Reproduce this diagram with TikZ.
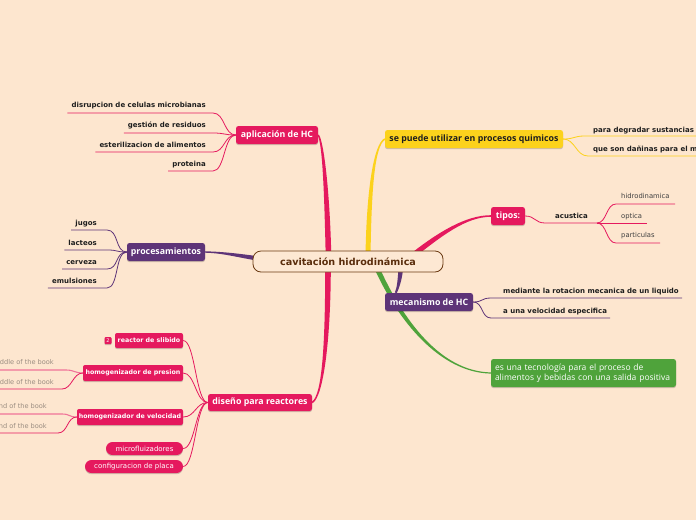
\documentclass[tikz,border=0pt]{standalone}
\usepackage{fontspec}
\setmainfont{DejaVu Sans}
\newfontfamily\osans{Open Sans}
\usetikzlibrary{calc,shadows}
\definecolor{bgc}{HTML}{FDE6CF}
\definecolor{hpink}{HTML}{E5195E}
\definecolor{hpurple}{HTML}{5E3478}
\definecolor{hyellow}{HTML}{FCD21C}
\definecolor{hgreen}{HTML}{4FA33B}
\definecolor{cbrown}{HTML}{6B3A12}
\definecolor{ctext}{HTML}{5A2D0C}
\definecolor{cfill}{HTML}{FDE8D3}
\definecolor{lpink}{HTML}{F07399}
\definecolor{greytext}{HTML}{9A8C80}
\definecolor{leaftxt}{HTML}{1E1E1E}
\pgfdeclarelayer{backlayer}
\pgfdeclarelayer{linelayer}
\pgfsetlayers{backlayer,linelayer,main}
% tapered branch: #1 start, #2 control 1, #3 control 2, #4 end, #5 half width at start, #6 half width at end, #7 colour
\newcommand\taperbranch[7]{%
  \path ($(#1)!#5!90:(#2)$) coordinate (tA1)
        ($(#1)!#5!-90:(#2)$) coordinate (tA2)
        ($(#4)!#6!-90:(#3)$) coordinate (tB1)
        ($(#4)!#6!90:(#3)$) coordinate (tB2);
  \path ($(#2)+(tA1)-(#1)$) coordinate (tC1)
        ($(#2)+(tA2)-(#1)$) coordinate (tC2)
        ($(#3)+(tB1)-(#4)$) coordinate (tD1)
        ($(#3)+(tB2)-(#4)$) coordinate (tD2);
  \fill[#7] (tA1) .. controls (tC1) and (tD1) .. (tB1) -- (tB2)
        .. controls (tD2) and (tC2) .. (tA2) -- cycle;
}
\begin{document}
\begin{tikzpicture}[x=1pt,y=-1pt,
  topic/.style={rounded corners=2.5pt, inner sep=0pt, text=white,
    font=\osans\bfseries\fontsize{8.8}{10}\selectfont,
    drop shadow={shadow xshift=0pt,shadow yshift=-1.2pt,opacity=0.18,fill=black}},
  subtopic/.style={rounded corners=2pt, inner sep=0pt, fill=hpink, text=white,
    font=\bfseries\fontsize{6.3}{7}\selectfont,
    drop shadow={shadow xshift=0pt,shadow yshift=-1.2pt,opacity=0.18,fill=black}},
  pill/.style={rounded corners=6.5pt, inner sep=0pt, fill=hpink, text=white,
    font=\fontsize{7}{8}\selectfont,
    drop shadow={shadow xshift=0pt,shadow yshift=-1.2pt,opacity=0.18,fill=black}},
  leaf/.style={inner sep=0pt, text=leaftxt, font=\bfseries\fontsize{7}{8}\selectfont},
  leafreg/.style={inner sep=0pt, text=leaftxt!85, font=\fontsize{6.8}{8}\selectfont},
  greyleaf/.style={inner sep=0pt, text=greytext, font=\fontsize{6.6}{8}\selectfont},
  pinkln/.style={draw=hpink, line width=0.8pt},
  lpinkln/.style={draw=lpink, line width=1.1pt},
  purpln/.style={draw=hpurple, line width=0.8pt},
  yelln/.style={draw=hyellow, line width=0.8pt},
]
\begin{pgfonlayer}{backlayer}
\fill[bgc] (0,0) rectangle (696,520);
\end{pgfonlayer}
\useasboundingbox (0,0) rectangle (696,520);

% central
\node[rounded corners=8pt, draw=cbrown, line width=0.8pt, fill=cfill,
  minimum width=190pt, minimum height=21pt, inner sep=0pt, text=ctext,
  font=\bfseries\fontsize{9.6}{11}\selectfont] (cen) at (348,261.5) {cavitación hidrodinámica};

% main topics
\node[topic, fill=hpink, minimum width=82pt, minimum height=18pt] (apl) at (277,135) {aplicación de HC};
\node[topic, fill=hpurple, minimum width=78pt, minimum height=18pt] (pro) at (166,252) {procesamientos};
\node[topic, fill=hpink, minimum width=104pt, minimum height=17pt] (dis) at (260,402.5) {diseño para reactores};
\node[topic, fill=hyellow, text=leaftxt, minimum width=178pt, minimum height=18pt] (yel) at (474,139) {se puede utilizar en procesos quimicos};
\node[topic, fill=hpink, minimum width=34pt, minimum height=18pt] (tip) at (508,216) {tipos:};
\node[topic, fill=hpurple, minimum width=88pt, minimum height=18pt] (mec) at (429,302) {mecanismo de HC};
\node[topic, fill=hgreen, minimum width=185pt, minimum height=28pt, text width=177pt, align=left,
  font=\osans\fontsize{8.5}{9.8}\selectfont] (grn) at (583.5,373)
  {es una tecnología para el proceso de\\alimentos y bebidas con una salida positiva};

% main branches
\begin{pgfonlayer}{linelayer}
\coordinate (s1) at (328.5,256);
\coordinate (s2) at (328,266);
\coordinate (s3) at (368,256);
\coordinate (s4) at (412,256);
\coordinate (s5) at (401,266);
\coordinate (s6) at (376,266);
\coordinate (s7) at (262,259);
\coordinate (e5) at ($(mec.north west)+(11,0)$);
\taperbranch{s1}{327,190}{323,142}{apl.east}{2.8pt}{0.8pt}{hpink}
\taperbranch{s2}{328,340}{323,396}{dis.east}{2.8pt}{0.8pt}{hpink}
\taperbranch{s3}{369,190}{374,145}{yel.west}{2.5pt}{0.8pt}{hyellow}
\taperbranch{s4}{440,234}{466,216}{tip.west}{2.6pt}{0.8pt}{hpink}
\taperbranch{s5}{400,280}{398,288}{e5}{2.3pt}{1pt}{hpurple}
\taperbranch{s6}{400,320}{440,372}{grn.west}{2.5pt}{0.6pt}{hgreen}
\taperbranch{s7}{240,256}{225,252.5}{pro.east}{2.2pt}{0.7pt}{hpurple}
\end{pgfonlayer}

% aplicación leaves
\node[leaf, anchor=base east] (a1) at (206,107) {disrupcion de celulas microbianas};
\node[leaf, anchor=base east] (a2) at (206,127) {gestión de residuos};
\node[leaf, anchor=base east] (a3) at (206,147) {esterilizacion de alimentos};
\node[leaf, anchor=base east] (a4) at (206,166.5) {proteina};
\coordinate (a1e) at (213,113);
\coordinate (a2e) at (213,133);
\coordinate (a3e) at (213,152);
\coordinate (a4e) at (213,171);
\begin{pgfonlayer}{linelayer}
\foreach \i in {1,2,3,4}
  \draw[pinkln] (apl.west) .. controls +(-12,0) and +(12,0) .. (a\i e) -- ($(a\i e -| a\i.west)+(-4,0)$);
\end{pgfonlayer}

% procesamientos leaves
\node[leaf, anchor=base east] (p1) at (97,225) {jugos};
\node[leaf, anchor=base east] (p2) at (97,245) {lacteos};
\node[leaf, anchor=base east] (p3) at (97,264) {cerveza};
\node[leaf, anchor=base east] (p4) at (97,283) {emulsiones};
\coordinate (p1e) at (107,230);
\coordinate (p2e) at (107,250);
\coordinate (p3e) at (107,269);
\coordinate (p4e) at (107,288);
\begin{pgfonlayer}{linelayer}
\foreach \i in {1,2,3,4}
  \draw[purpln] (pro.west) .. controls +(-12,0) and +(12,0) .. (p\i e) -- ($(p\i e -| p\i.west)+(-4,0)$);
\end{pgfonlayer}

% diseño children
\node[subtopic, minimum width=68pt, minimum height=15pt] (rea) at (149,340.5) {reactor de slibido};
\node[subtopic, rounded corners=1pt, minimum width=7pt, minimum height=7pt,
  font=\fontsize{5}{5}\selectfont] (bad) at (108,340.5) {2};
\node[subtopic, minimum width=100pt, minimum height=16pt] (hp) at (133,373) {homogenizador de presion};
\node[subtopic, minimum width=106pt, minimum height=16pt] (hv) at (130,417) {homogenizador de velocidad};
\node[pill, minimum width=77pt, minimum height=13pt] (mic) at (144.5,448.5) {microfluizadores};
\node[pill, minimum width=98pt, minimum height=13pt] (cfg) at (134,466.5) {configuracion de placa};
\begin{pgfonlayer}{linelayer}
\foreach \n in {rea,hp,hv,mic,cfg}
  \draw[pinkln] (dis.west) .. controls +(-12,0) and +(12,0) .. (\n.east);
\end{pgfonlayer}

% homogenizador children
\node[greyleaf, anchor=base east] (h1) at (54,364) {Middle of the book};
\node[greyleaf, anchor=base east] (h2) at (54,384) {Middle of the book};
\node[greyleaf, anchor=base east] (v1) at (47,408) {End of the book};
\node[greyleaf, anchor=base east] (v2) at (47,428) {End of the book};
\coordinate (h1e) at (66,370);
\coordinate (h2e) at (62,389);
\coordinate (v1e) at (62,414);
\coordinate (v2e) at (58,433);
\begin{pgfonlayer}{linelayer}
\draw[lpinkln] (hp.west) .. controls +(-8,0) and +(8,0) .. (h1e) -- ($(h1e -| h1.west)+(-4,0)$);
\draw[pinkln] (hp.west) .. controls +(-10,0) and +(10,0) .. (h2e) -- ($(h2e -| h2.west)+(-4,0)$);
\draw[lpinkln] (hv.west) .. controls +(-8,0) and +(8,0) .. (v1e) -- ($(v1e -| v1.west)+(-4,0)$);
\draw[pinkln] (hv.west) .. controls +(-10,0) and +(10,0) .. (v2e) -- ($(v2e -| v2.west)+(-4,0)$);
\end{pgfonlayer}

% yellow children
\node[leaf, anchor=base west] (y1) at (593,132) {para degradar sustancias};
\node[leaf, anchor=base west] (y2) at (593,151) {que son dañinas para el medio ambiente};
\coordinate (y1s) at (585,136);
\coordinate (y2s) at (588,156);
\begin{pgfonlayer}{linelayer}
\draw[yelln] (yel.east) .. controls +(12,0) and +(-12,0) .. (y1s) -- ($(y1s -| y1.east)+(6,0)$);
\draw[yelln] (yel.east) .. controls +(12,0) and +(-12,0) .. (y2s) -- ($(y2s -| y2.east)+(6,0)$);
\end{pgfonlayer}

% tipos children
\node[leaf, anchor=base west] (acu) at (555,218) {acustica};
\coordinate (ac1) at (545,223);
\coordinate (ac2) at (597,223);
\node[leafreg, anchor=base west] (t1) at (621,198) {hidrodinamica};
\node[leafreg, anchor=base west] (t2) at (621,218) {optica};
\node[leafreg, anchor=base west] (t3) at (621,237.5) {particulas};
\coordinate (t1s) at (616,204);
\coordinate (t3s) at (616,243);
\coordinate (t1e) at (675,204);
\coordinate (t2e) at (647,223);
\coordinate (t3e) at (660,243);
\begin{pgfonlayer}{linelayer}
\draw[pinkln] (tip.east) .. controls +(10,0) and +(-10,0) .. (ac1) -- (ac2);
\draw[pinkln] (ac2) .. controls +(10,0) and +(-10,0) .. (t1s) -- (t1e);
\draw[pinkln] (ac2) -- (t2e);
\draw[pinkln] (ac2) .. controls +(10,0) and +(-10,0) .. (t3s) -- (t3e);
\end{pgfonlayer}

% mecanismo children
\node[leaf, anchor=base west] (m1) at (503,293) {mediante la rotacion mecanica de un liquido};
\node[leaf, anchor=base west] (m2) at (503,313) {a una velocidad especifica};
\coordinate (m1s) at (491,298);
\coordinate (m2s) at (491,318);
\coordinate (m1e) at (682,298);
\coordinate (m2e) at (610,318);
\begin{pgfonlayer}{linelayer}
\draw[purpln] (mec.east) .. controls +(10,0) and +(-10,0) .. (m1s) -- (m1e);
\draw[purpln] (mec.east) .. controls +(10,0) and +(-10,0) .. (m2s) -- (m2e);
\end{pgfonlayer}
\end{tikzpicture}
\end{document}
